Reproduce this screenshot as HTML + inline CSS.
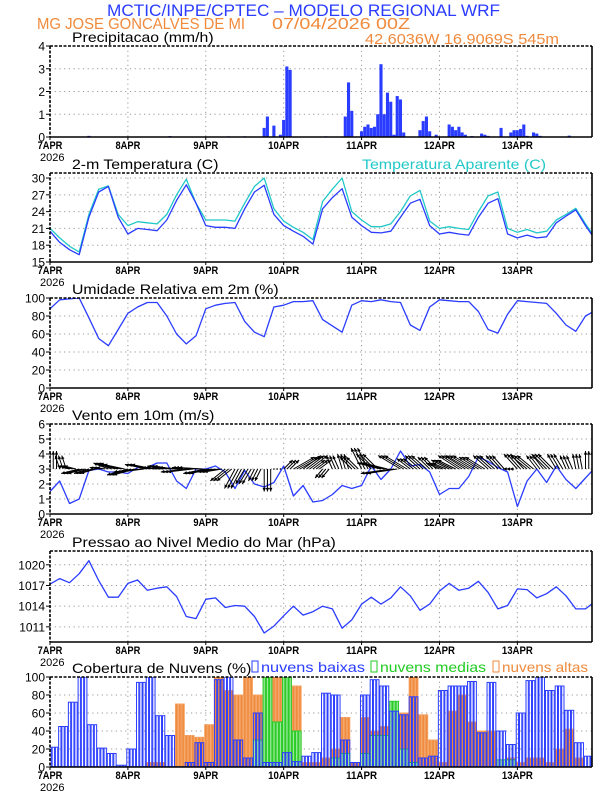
<!DOCTYPE html>
<html><head><meta charset="utf-8"><style>
html,body{margin:0;padding:0;background:#fff}
svg{display:block;font-family:"Liberation Sans",sans-serif}
</style></head><body>
<svg id="c" width="612" height="792" viewBox="0 0 612 792">
<text x="107" y="16" font-size="17" fill="#2a3cff" textLength="393" lengthAdjust="spacingAndGlyphs">MCTIC/INPE/CPTEC – MODELO REGIONAL WRF</text>
<text x="37" y="29" font-size="16" fill="#f08a3c" textLength="208" lengthAdjust="spacingAndGlyphs">MG JOSE GONCALVES DE MI</text>
<text x="272" y="29" font-size="16" fill="#f08a3c" textLength="138" lengthAdjust="spacingAndGlyphs">07/04/2026 00Z</text>
<text x="365" y="44" font-size="15" fill="#f08a3c" textLength="194" lengthAdjust="spacingAndGlyphs">42.6036W 16.9069S 545m</text>
</svg>
<script>
const hours3 = Array.from({length:57},(_, i)=>i*3);
const dayLabels = ["7APR","8APR","9APR","10APR","11APR","12APR","13APR"];
const precipHours = [66,67,69,71,72,73,74,91,92,93,96,97,98,99,100,101,102,103,104,105,106,107,108,109,114,115,116,117,119,123,124,125,126,127,128,133,134,135,139,142,143,144,145,146,147,149,150,151,12,37,55,60,85,130,160];
const precipValues = [0.4,0.9,0.5,0.1,0.75,3.1,2.95,0.9,2.4,1.15,0.25,0.45,0.55,0.4,0.45,1.0,3.2,1.0,1.95,1.55,0.1,1.8,1.65,0.2,0.3,0.7,0.9,0.25,0.1,0.55,0.45,0.3,0.45,0.2,0.1,0.15,0.1,0.05,0.4,0.2,0.3,0.3,0.35,0.55,0.05,0.2,0.15,0.05,0.05,0.04,0.03,0.03,0.03,0.04,0.06];
const tempValues = [20.5,18.5,17.2,16.3,23,27.5,28.5,23,20,21,20.8,20.6,22.5,26,28.8,25.5,21.5,21.2,21.2,21,24.5,27.5,28.7,23.5,21.5,20.5,19.6,18.2,24.5,26.5,28.1,23,21.5,20.3,20.2,20.5,23,25.5,26.2,21.5,20,20.3,20,19.8,23,25.5,26.3,20,19.3,19.8,19.3,19.5,22,23.2,24.3,21.5,19];
const apparentValues = [21,19.3,17.8,16.8,23.5,28,28.6,23.5,21.5,22.2,22,21.8,23.5,27,29.8,25.5,22.5,22.5,22.5,22.3,25.5,28.5,30,24.5,22.3,21.2,20.3,19,25.8,28,30,24,22.5,21.3,21.3,21.8,24,26.8,27.8,22.3,21,21.3,21,20.8,24,26.8,27.5,21,20.3,20.8,20.2,20.5,22.5,23.5,24.6,21.8,19.3];
const rhValues = [88,98,99,100,78,55,47,65,83,90,95,95,80,60,49,58,88,92,94,95,74,62,57,90,92,96,96,97,76,69,62,92,97,96,98,96,95,70,64,90,98,97,96,96,85,65,61,82,97,96,95,94,83,70,63,80,86];
const windSpeed = [1.5,2.2,0.7,1.0,2.9,3.0,2.8,2.8,2.7,3.1,3.1,3.4,3.4,2.2,1.7,3.0,3.0,3.2,2.8,1.7,2.9,2.0,1.8,2.1,3.2,1.2,1.9,0.8,0.9,1.3,1.9,1.7,1.9,3.2,2.3,3.0,4.2,3.2,3.3,2.8,1.3,1.7,1.7,2.5,3.8,3.5,3.1,2.8,0.5,2.2,3.0,2.1,3.2,2.3,1.7,2.4,3.1];
const windU = [0,-0.3,-0.8,-1.2,-1.0,-0.6,-1.0,-1.4,-1.4,-1.6,-1.5,-1.2,-1.3,-1.6,-1.7,-1.6,-1.5,-1.2,-1.0,-0.7,-0.6,-0.4,0,0,0.6,1.4,1.2,0.8,-0.5,-0.4,-0.3,-0.8,-0.7,-1.0,-1.6,-2.0,-1.5,-0.9,-1.0,-0.8,-0.9,-1.2,-1.4,-1.5,-1.3,-1.0,-0.8,-0.3,-0.9,-1.1,-0.7,-1.0,-0.6,-0.4,-0.2,0,0];
const windV = [1.2,0.9,0.2,-0.3,-0.3,0.1,0.4,0.3,-0.4,-0.2,0.3,0.1,0.2,0.1,-0.2,0.1,-0.3,-0.2,-0.8,-1.3,-1.0,-0.8,-1.5,0,0.6,0.8,0.9,0.6,-0.6,0.9,1.0,0.8,1.4,1.0,0.4,-0.3,0.9,0.7,0.9,0.8,0.4,0.6,0.9,0.9,0.8,0.9,0.9,0,1.0,0.9,0.9,1.0,1.0,0.9,1.0,1.2,1.5];
const pressValues = [1017.2,1018,1017.4,1018.7,1020.6,1017.7,1015.3,1015.3,1017.3,1017.8,1016.3,1016.6,1016.8,1015.4,1012.5,1012.2,1015,1015.2,1013.8,1014.1,1014,1012.5,1010.1,1011.1,1012.6,1014,1012.7,1013.2,1014,1013.6,1010.8,1012,1014.3,1015.3,1014.3,1015.2,1016.8,1015.5,1013.4,1014.3,1016.2,1017.3,1016.3,1016.6,1017.6,1016,1013.6,1014.1,1016.5,1016.4,1015.2,1015.8,1016.8,1015.5,1013.6,1013.6,1014.7];
const cloudLow = [22,45,72,100,47,21,15,2,20,94,100,57,35,0,5,27,5,97,100,30,10,60,5,5,16,6,12,16,82,80,30,5,80,97,90,62,58,78,10,12,85,90,90,95,38,94,40,25,60,96,100,85,90,63,27,12,0];
const cloudMid = [0,0,0,0,0,0,0,0,0,0,0,0,0,0,0,0,0,0,0,0,0,30,100,50,100,40,0,0,0,10,15,0,15,35,35,73,20,5,0,0,0,0,0,0,0,0,8,8,0,0,0,0,0,0,0,0,0];
const cloudHigh = [0,0,0,0,0,0,0,0,0,0,5,5,0,70,35,33,47,100,85,80,100,80,100,100,100,90,5,5,10,20,55,5,55,40,45,20,60,100,58,30,5,62,80,50,40,40,5,10,5,10,10,5,20,42,10,0,0];
const precipTicks = [0,1,2,3,4];
const tempTicks = [15,18,21,24,27,30];
const rhTicks = [0,20,40,60,80,100];
const windTicks = [0,1,2,3,4,5,6];
const pressTicks = [1011,1014,1017,1020];
const cloudTicks = [0,20,40,60,80,100];

const NS="http://www.w3.org/2000/svg";
const svg=document.getElementById('c');
const X0=50,X1=592,HSPAN=167;
function xh(h){return X0+h*(X1-X0)/HSPAN;}
function mk(tag,attrs,parent){const e=document.createElementNS(NS,tag);for(const k in attrs)e.setAttribute(k,attrs[k]);(parent||svg).appendChild(e);return e;}
function yScale(top,bottom,vmin,vmax){return v=>bottom-(v-vmin)*(bottom-top)/(vmax-vmin);}
function stretch(t,f){const w=t.getComputedTextLength();t.setAttribute('textLength',(w*f).toFixed(1));t.setAttribute('lengthAdjust','spacingAndGlyphs');}

function panel(name,title,top,bottom,vmin,vmax,ticks){
  const g=mk('g',{});
  
  
  const y=yScale(top,bottom,vmin,vmax);
  const clipId='clip-'+name;
  const cp=mk('clipPath',{id:clipId},g);
  mk('rect',{x:X0,y:top,width:X1-X0,height:bottom-top},cp);
  for(let d=1;d<7;d++){
    const gl=mk('line',{x1:xh(d*24),x2:xh(d*24),y1:top,y2:bottom,stroke:'#999','stroke-dasharray':'1.2,3.5','stroke-width':1},g);
    
    
  }
  ticks.forEach(t=>{
    const yy=y(t);
    if(yy>top+1&&yy<bottom-1){
      const gl=mk('line',{x1:X0,x2:X1,y1:yy,y2:yy,stroke:'#999','stroke-dasharray':'1.2,3.5','stroke-width':1},g);
      
      
    }
    mk('line',{x1:X0-4,x2:X0,y1:yy,y2:yy,stroke:'#000','stroke-width':1},g);
    const tl=mk('text',{x:X0-5,y:yy+4.5,'text-anchor':'end','font-size':12,fill:'#000'},g);
    tl.textContent=t;
    
    
  });
  dayLabels.forEach((d,i)=>{
    const xx=xh(i*24);
    mk('line',{x1:xx,x2:xx,y1:bottom,y2:bottom+3,stroke:'#000'},g);
    const tl=mk('text',{x:xx,y:bottom+12,'text-anchor':'middle','font-size':11,'font-weight':'bold',fill:'#000',textLength:d.length*6.2,lengthAdjust:'spacingAndGlyphs'},g);
    tl.textContent=d;
    
    
  });
  const yr=mk('text',{x:X0-10,y:bottom+24,'font-size':11,fill:'#000'},g);
  yr.textContent='2026';
  
  
  const tt=mk('text',{x:72,y:top-4,'font-size':14,fill:'#000'},g);
  tt.textContent=title;
  
  
  stretch(tt,1.13);
  const plot=mk('g',{'clip-path':'url(#'+clipId+')'},g);
  
  
  const fr=mk('g',{},g);
  
  
  mk('line',{x1:X0,x2:X1,y1:top,y2:top,stroke:'#000','stroke-width':1.6,'stroke-dasharray':'3,1.5'},fr);
  mk('line',{x1:X0,x2:X0,y1:top,y2:bottom,stroke:'#000','stroke-width':1.6,'stroke-dasharray':'3,1.5'},fr);
  mk('line',{x1:X1,x2:X1,y1:top,y2:bottom,stroke:'#000','stroke-width':1.6},fr);
  mk('line',{x1:X0,x2:X1,y1:bottom,y2:bottom,stroke:'#000','stroke-width':1.6},fr);
  return {g,plot,y,fr};
}
function line(p,vals,color,name){
  let d='';
  vals.forEach((v,i)=>{d+=(i?'L':'M')+xh(hours3[i]).toFixed(1)+','+p.y(v).toFixed(1);});
  const l=mk('path',{d,fill:'none',stroke:color,'stroke-width':1.3,'stroke-linejoin':'round'},p.plot);
  
  
}

// Precip
const p1=panel('precipitation','Precipitacao (mm/h)',46,137,0,4,precipTicks);
precipHours.forEach((h,i)=>{
  const v=precipValues[i];
  const r=mk('rect',{x:xh(h)-1.6,y:p1.y(v),width:3.1,height:Math.max(p1.y(0)-p1.y(v),0.6),fill:'#2a3cff'},p1.plot);
  
  
});
// Temp
const p2=panel('temperature','2-m Temperatura (C)',173,262,15,30.9,tempTicks);
const at=mk('text',{x:362,y:169,'font-size':14,fill:'#22c8c8',textLength:184,lengthAdjust:'spacingAndGlyphs'},p2.g);
at.textContent='Temperatura Aparente (C)';


line(p2,apparentValues,'#22c8c8','apparent-temp-line');
line(p2,tempValues,'#2a3cff','temp-line');
// RH
const p3=panel('humidity','Umidade Relativa em 2m (%)',298,388,0,100,rhTicks);
line(p3,rhValues,'#2a3cff','rh-line');
// Wind
const p4=panel('wind','Vento em 10m (m/s)',424,514,0,6,windTicks);
line(p4,windSpeed,'#2a3cff','wind-speed-line');
const ws=15;
windU.forEach((u,i)=>{
  for(let k=0;k<3;k++){
    const x0=xh(hours3[i]+k),y0=p4.y(3);
    const x1=x0+u*ws,y1=y0-windV[i]*ws;
    const len=Math.hypot(x1-x0,y1-y0);
    const ag=mk('g',{},p4.plot);
    
    
    if(len<1){mk('circle',{cx:x0,cy:y0,r:0.8,fill:'#000'},ag);continue;}
    mk('line',{x1:x0,y1:y0,x2:x1,y2:y1,stroke:'#000','stroke-width':1},ag);
    const a=Math.atan2(y1-y0,x1-x0),hl=4;
    mk('path',{d:`M${x1},${y1}L${x1-hl*Math.cos(a-0.45)},${y1-hl*Math.sin(a-0.45)}L${x1-hl*Math.cos(a+0.45)},${y1-hl*Math.sin(a+0.45)}Z`,fill:'#000'},ag);
  }
});
// Pressure
const p5=panel('pressure','Pressao ao Nivel Medio do Mar (hPa)',551,642,1008.8,1022,pressTicks);
line(p5,pressValues,'#2a3cff','pressure-line');
// Clouds
const p6=panel('clouds','Cobertura de Nuvens (%)',677,767,0,100,cloudTicks);
function cloudBars(vals,stroke,fill,name){
  vals.forEach((v,i)=>{
    if(v<=0)return;
    for(let k=0;k<3;k++){
      const h=hours3[i]+k;
      const r=mk('rect',{x:xh(h)-1.1,y:p6.y(v),width:2.3,height:p6.y(0)-p6.y(v),fill:fill,stroke:stroke,'stroke-width':1},p6.plot);
      
      
    }
  });
}
cloudBars(cloudHigh,'#f3a060','#f08a3c','high-cloud-bar');
cloudBars(cloudMid,'#22cc22','#9be89b','mid-cloud-bar');
cloudBars(cloudLow,'#2a3cff','none','low-cloud-bar');
mk('line',{x1:X0,x2:X1,y1:767,y2:767,stroke:'#2a3cff','stroke-width':1.5},p6.plot);
const legends=[['nuvens baixas','#2a3cff',252,113],['nuvens medias','#22cc22',371,115],['nuvens altas','#f08a3c',493,95]];
legends.forEach(([t,c,x,w])=>{
  const lg=mk('g',{},p6.g);
  
  
  mk('rect',{x:x,y:661,width:6,height:11,fill:'none',stroke:c,'stroke-width':1},lg);
  const tx=mk('text',{x:x+9,y:672,'font-size':14,fill:c,textLength:w-9,lengthAdjust:'spacingAndGlyphs'},lg);
  tx.textContent=t;
});
</script>
</body></html>
